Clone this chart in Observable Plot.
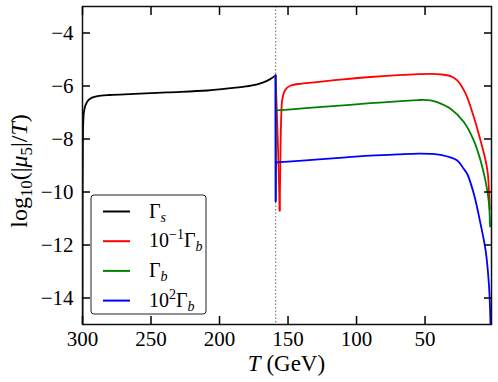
<!DOCTYPE html>
<html><head><meta charset="utf-8">
<script src="https://cdn.jsdelivr.net/npm/d3@7"></script>
<script src="https://cdn.jsdelivr.net/npm/@observablehq/plot@0.6"></script>
<style>
body{margin:0;background:#fff}
svg text, svg tspan { font-family: "Liberation Serif", "Times New Roman", serif !important; }
</style>
</head><body><div id="chart"></div>
<script>
const xTicks = [300, 250, 200, 150, 100, 50];
const yTicks = [-4, -6, -8, -10, -12, -14];
const transitionT = 159;

const gammaS_T = [300, 299.9, 299.7, 299.4, 299, 298, 296, 293, 289, 280, 262, 238, 209, 190, 177, 168, 163, 159.1];
const gammaS_V = [-15, -10, -8, -7.3, -7.0, -6.75, -6.55, -6.44, -6.38, -6.34, -6.3, -6.24, -6.17, -6.07, -5.99, -5.86, -5.74, -5.6];

const red_T = [159.1, 157.8, 156.8, 156.1, 155.5, 155, 154.3, 153, 151, 148, 140, 129, 110, 90, 70, 55, 45, 38.7, 31.4, 26.5, 20.4, 14.4, 9.5, 5.8, 4.2, 3.4, 2.8];
const red_V = [-5.6, -7.5, -9.2, -10.7, -8.5, -7.2, -6.55, -6.25, -6.08, -5.98, -5.91, -5.85, -5.75, -5.66, -5.59, -5.55, -5.54, -5.56, -5.63, -5.79, -6.29, -7.17, -8.06, -8.81, -9.3, -9.9, -10.65];

const green_T = [159.1, 159.0, 158.85, 150, 130, 110, 90, 70, 55, 46, 41.1, 31.4, 21.7, 14.4, 9.5, 5.8, 3.4, 2.6];
const green_V = [-5.6, -10.35, -6.92, -6.89, -6.81, -6.73, -6.65, -6.58, -6.53, -6.54, -6.61, -6.86, -7.36, -8.06, -8.81, -9.6, -10.4, -11.3];

const blue_T = [159.1, 159.0, 158.85, 150, 130, 110, 90, 70, 55, 46, 38.7, 26.5, 21.7, 19.2, 14.4, 9.5, 5.8, 3.4, 2.2];
const blue_V = [-5.6, -10.35, -8.88, -8.85, -8.78, -8.7, -8.63, -8.58, -8.55, -8.56, -8.6, -8.81, -9.13, -9.32, -10.07, -11.2, -12.2, -13.47, -15];

// where each curve stops being a sharp spike and becomes smooth
const smoothFromT = [300, 156.1, 158.85, 158.85];

const seriesNames = ["Γs", "0.1Γb", "Γb", "100Γb"];
const seriesColors = ["black", "#ff0000", "#008000", "#0000ff"];

const series = [
  [gammaS_T, gammaS_V], [red_T, red_V], [green_T, green_V], [blue_T, blue_V]
];
const rows = series.flatMap(([ts, vs], i) => ts.map((t, j) => ({T: t, v: vs[j], s: seriesNames[i]})));

const font = "Liberation Serif, Times New Roman, serif";
const lineMarks = seriesNames.flatMap((name, i) => {
  const d = rows.filter(r => r.s === name);
  const cut = smoothFromT[i];
  return [
    Plot.line(d.filter(r => r.T >= cut), {x: "T", y: "v", stroke: seriesColors[i], strokeWidth: 1.8, clip: true}),
    Plot.line(d.filter(r => r.T <= cut), {x: "T", y: "v", stroke: seriesColors[i], strokeWidth: 1.8, clip: true, curve: "catmull-rom"})
  ];
});

const plot = Plot.plot({
  width: 498, height: 382,
  marginLeft: 82, marginRight: 7, marginTop: 6, marginBottom: 58,
  style: {fontFamily: font, fontSize: "21px", background: "white", color: "black"},
  x: {domain: [300, 1.5]},
  y: {domain: [-15, -3]},
  marks: [
    Plot.ruleX([transitionT], {stroke: "#666", strokeWidth: 1, strokeDasharray: "1.5,2"}),
    ...lineMarks,
    Plot.frame({stroke: "#111", strokeWidth: 1.5}),
    Plot.axisX({anchor: "bottom", ticks: xTicks, tickSize: 8, dy: -8, text: null, label: null, strokeWidth: 1.5}),
    Plot.axisX({anchor: "top", ticks: xTicks, tickSize: 8, dy: 8, text: null, label: null, strokeWidth: 1.5}),
    Plot.axisY({anchor: "left", ticks: yTicks, tickSize: 8, dx: 8, text: null, label: null, strokeWidth: 1.5}),
    Plot.axisY({anchor: "right", ticks: yTicks, tickSize: 8, dx: -8, text: null, label: null, strokeWidth: 1.5}),
    Plot.axisX({anchor: "bottom", ticks: xTicks, tickSize: 0, tickPadding: 7, label: null, fontSize: 21}),
    Plot.axisY({anchor: "left", ticks: yTicks, tickSize: 0, tickPadding: 9, label: null, fontSize: 21})
  ]
});
document.getElementById("chart").appendChild(plot);

const svg = d3.select(plot);
const xs = plot.scale("x"), ys = plot.scale("y");
const cx = (xs.range[0] + xs.range[1]) / 2;
const cy = (ys.range[0] + ys.range[1]) / 2;

// parts: {t, i: italic, small: smaller size, dy: baseline shift relative to previous}
function addMath(g, parts) {
  parts.forEach(p => {
    const t = g.append("tspan").text(p.t);
    if (p.i) t.attr("font-style", "italic");
    if (p.small) t.attr("font-size", "70%");
    if (p.dy) t.attr("dy", p.dy);
  });
}

// x label
const xl = svg.append("text").attr("x", cx).attr("y", 371).attr("text-anchor", "middle")
  .attr("font-size", 23).attr("fill", "black");
addMath(xl, [{t: "T", i: true}, {t: " (GeV)"}]);

// y label
const yl = svg.append("text").attr("transform", `translate(27,${cy + 6}) rotate(-90)`).attr("text-anchor", "middle")
  .attr("font-size", 24).attr("fill", "black");
addMath(yl, [{t: "log"}, {t: "10", small: true, dy: 5}, {t: "(|", dy: -5}, {t: "μ", i: true},
  {t: "5", small: true, dy: 5}, {t: "|/", dy: -5}, {t: "T", i: true}, {t: ")"}]);

// legend
const legendLabels = [
  [{t: "Γ"}, {t: "s", i: true, small: true, dy: 4}],
  [{t: "10"}, {t: "−1", small: true, dy: -8}, {t: "Γ", dy: 8}, {t: "b", i: true, small: true, dy: 4}],
  [{t: "Γ"}, {t: "b", i: true, small: true, dy: 4}],
  [{t: "10"}, {t: "2", small: true, dy: -8}, {t: "Γ", dy: 8}, {t: "b", i: true, small: true, dy: 4}]
];
const leg = svg.append("g").attr("font-size", 20).attr("text-anchor", "start");
leg.append("rect").attr("x", 91).attr("y", 195).attr("width", 115).attr("height", 119).attr("rx", 3)
  .attr("fill", "white").attr("stroke", "#222").attr("stroke-width", 1);
legendLabels.forEach((parts, i) => {
  const yy = 211.5 + i * 29.7;
  leg.append("line").attr("x1", 103).attr("x2", 130).attr("y1", yy).attr("y2", yy)
    .attr("stroke", seriesColors[i]).attr("stroke-width", 2);
  const t = leg.append("text").attr("x", 149).attr("y", yy + 6).attr("fill", "black").attr("text-anchor", "start");
  addMath(t, parts);
});
</script>
</body></html>
